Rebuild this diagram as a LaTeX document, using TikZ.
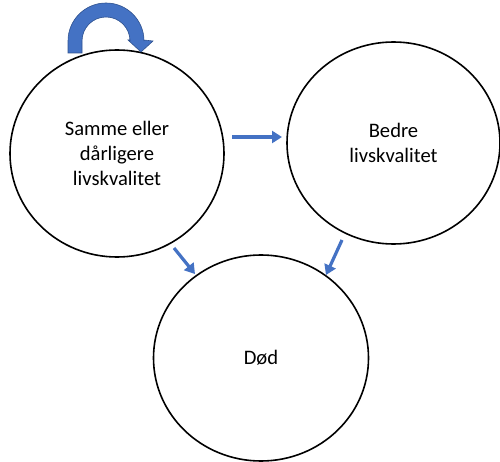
\documentclass[tikz,border=0pt]{standalone}
\usepackage{fontspec}
\setmainfont{Carlito}
\usetikzlibrary{shapes.geometric,arrows.meta}
\definecolor{ablue}{HTML}{4472C4}
\definecolor{dblue}{HTML}{2F528F}
\tikzset{
  state/.style={ellipse, draw=black, line width=1.6pt, inner sep=0pt,
    align=center, font=\fontsize{20.6}{25}\selectfont},
  flow/.style={draw=ablue, line width=3.2pt, -{Triangle[length=10pt,width=12pt]}}
}
\begin{document}
\begin{tikzpicture}[x=1pt,y=-1pt]
\useasboundingbox (0,0) rectangle (500,462);
\node[state, minimum width=214pt, minimum height=207pt] (same) at (117,153.5) {Samme eller\\dårligere\\livskvalitet};
\node[state, minimum width=213pt, minimum height=202pt] (better) at (393.5,143) {Bedre\\livskvalitet};
\node[state, minimum width=215pt, minimum height=206pt] (dead) at (261,358) {Død};
% connector end points
\coordinate (h1) at (232,137);
\coordinate (h2) at (282,137);
\coordinate (l1) at (174,248);
\coordinate (l2) at (195,274);
\coordinate (r1) at (342,240);
\coordinate (r2) at (326,275);
\draw[flow] (h1) -- (h2);
\draw[flow] (l1) -- (l2);
\draw[flow] (r1) -- (r2);
% self loop block arrow
\fill[ablue, draw=dblue, line width=0.6pt]
  (68,53) -- (68,41) arc[start angle=180, end angle=360, radius=38]
  -- (144,40) -- (153,41) -- (141,52) -- (128,40) -- (130,40)
  -- (130,41) arc[start angle=360, end angle=180, radius=24]
  -- (82,53) -- cycle;
\end{tikzpicture}
\end{document}
